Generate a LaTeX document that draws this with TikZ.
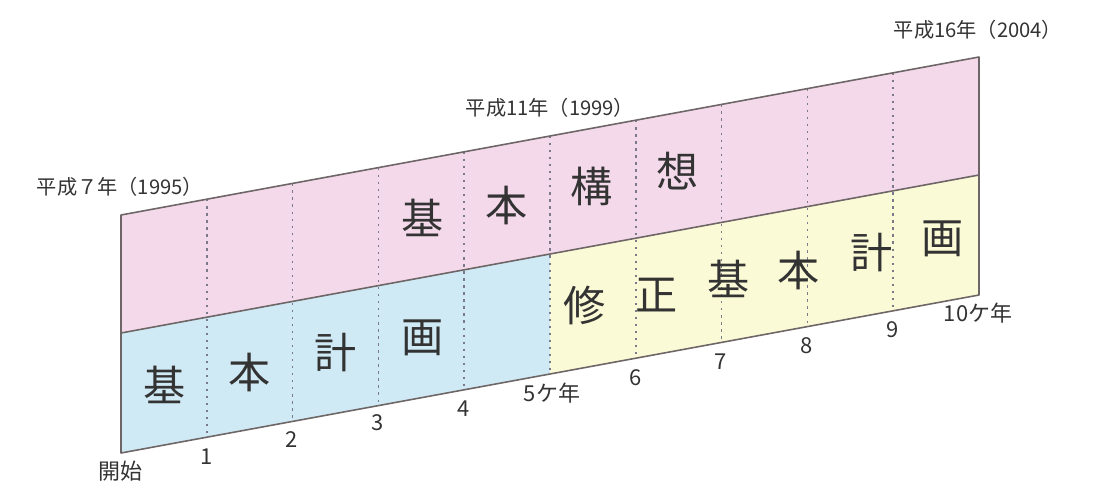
\documentclass[tikz,border=0pt]{standalone}
\usepackage{fontspec}
\setmainfont{Noto Sans CJK JP}
\definecolor{pinkband}{HTML}{F4D9EB}
\definecolor{blueband}{HTML}{CFEAF4}
\definecolor{yellowband}{HTML}{FBFAD6}
\definecolor{edge}{HTML}{6E6666}
\definecolor{dotc}{HTML}{7A7A8A}
\definecolor{txt}{HTML}{333333}
\tikzset{
  frame/.style={draw=edge, line width=0.9pt, line join=round},
  divider/.style={draw=dotc, line width=1pt, dash pattern=on 1.3pt off 2.7pt},
  yearlbl/.style={text=txt, font=\fontsize{11.5}{12}\selectfont, inner sep=0pt},
  ticklbl/.style={text=txt, font=\fontsize{12.5}{13}\selectfont, inner sep=0pt},
  bigchar/.style={text=txt, font=\fontsize{24}{26}\selectfont, inner sep=0pt},
}
\begin{document}
\begin{tikzpicture}[x=0.02cm, y=-0.02cm]
\useasboundingbox (0,0) rectangle (1094,487);
\foreach \i in {0,...,10}{
  \coordinate (T\i) at ({121+85.8*\i},{215-15.8*\i});
  \coordinate (M\i) at ({121+85.8*\i},{333-15.8*\i});
  \coordinate (B\i) at ({121+85.8*\i},{453-15.8*\i});
}
% bands
\fill[pinkband] (T0) -- (T10) -- (M10) -- (M0) -- cycle;
\fill[blueband] (M0) -- (M5) -- (B5) -- (B0) -- cycle;
\fill[yellowband] (M5) -- (M10) -- (B10) -- (B5) -- cycle;
% dotted dividers
\foreach \i in {1,...,9}{
  \draw[divider] (T\i) -- (B\i);
}
% frame
\draw[frame] (T0) -- (T10) -- (B10) -- (B0) -- cycle;
\draw[frame] (M0) -- (M10);
% year labels
\node[yearlbl] (y1995) at (120,187) {平成７年（1995）};
\node[yearlbl] (y1999) at (550,108) {平成11年（1999）};
\node[yearlbl] (y2004) at (978,30) {平成16年（2004）};
% tick labels
\node[ticklbl] (t0) at (120,471) {開始};
\node[ticklbl] (t1) at (207,457) {1};
\node[ticklbl] (t2) at (292,440) {2};
\node[ticklbl] (t3) at (378,423) {3};
\node[ticklbl] (t4) at (464,409) {4};
\node[ticklbl] (t5) at (552,393) {5ケ年};
\node[ticklbl] (t6) at (636,378) {6};
\node[ticklbl] (t7) at (721,362) {7};
\node[ticklbl] (t8) at (807,346) {8};
\node[ticklbl] (t9) at (893,330) {9};
\node[ticklbl] (t10) at (978,313) {10ケ年};
% top band
\node[bigchar] (a1) at (423,218) {基};
\node[bigchar] (a2) at (507,205) {本};
\node[bigchar] (a3) at (592,186) {構};
\node[bigchar] (a4) at (678,171) {想};
% blue band
\node[bigchar] (b1) at (165,385) {基};
\node[bigchar] (b2) at (250,372) {本};
\node[bigchar] (b3) at (336,353) {計};
\node[bigchar] (b4) at (423,338) {画};
% yellow band
\node[bigchar] (c1) at (585,305) {修};
\node[bigchar] (c2) at (657,295) {正};
\node[bigchar] (c3) at (729,279) {基};
\node[bigchar] (c4) at (799,270) {本};
\node[bigchar] (c5) at (872,253) {計};
\node[bigchar] (c6) at (943,239) {画};
\end{tikzpicture}
\end{document}
